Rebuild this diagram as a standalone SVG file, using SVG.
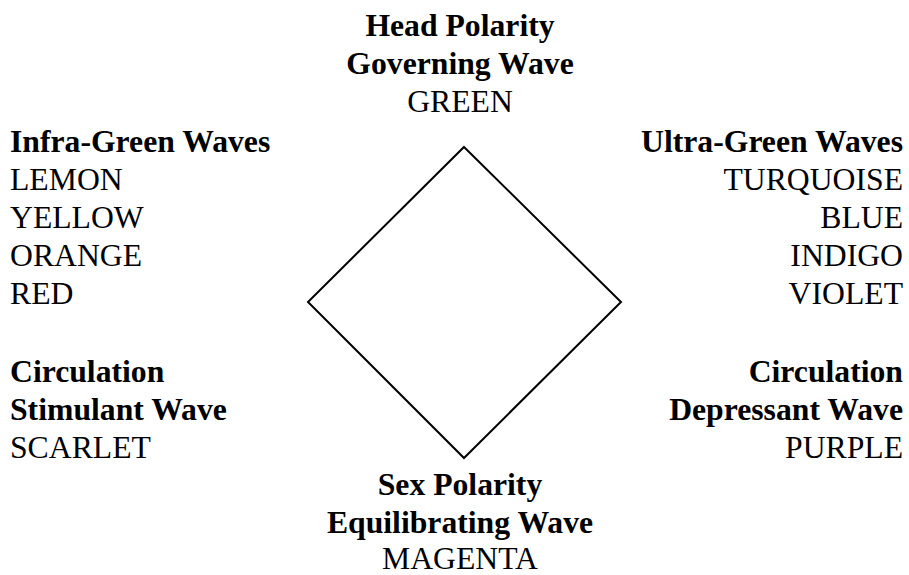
<svg xmlns="http://www.w3.org/2000/svg" width="909" height="575" viewBox="0 0 909 575">
<style>
text{font-family:"Liberation Serif","Times New Roman",serif;font-size:31.7px;fill:#000}
.b{font-weight:bold}
.c{text-anchor:middle}
.r{text-anchor:end}
.shape{fill:none;stroke:#000;stroke-width:2}
</style>
<rect width="909" height="575" fill="#fff"/>
<g id="connectors">
<polygon class="shape" points="464,147 621,302 464,458 308,302"/>
</g>
<g id="head">
<text class="b c" x="460" y="36">Head Polarity</text>
<text class="b c" x="460" y="74">Governing Wave</text>
<text class="c" x="460" y="112">GREEN</text>
</g>
<g id="infra">
<text class="b" x="10" y="152">Infra-Green Waves</text>
<text x="10" y="190">LEMON</text>
<text x="10" y="228">YELLOW</text>
<text x="10" y="266">ORANGE</text>
<text x="10" y="304">RED</text>
</g>
<g id="ultra">
<text class="b r" x="903" y="152">Ultra-Green Waves</text>
<text class="r" x="903" y="190">TURQUOISE</text>
<text class="r" x="903" y="228">BLUE</text>
<text class="r" x="903" y="266">INDIGO</text>
<text class="r" x="903" y="304">VIOLET</text>
</g>
<g id="stimulant">
<text class="b" x="10" y="382">Circulation</text>
<text class="b" x="10" y="420">Stimulant Wave</text>
<text x="10" y="458">SCARLET</text>
</g>
<g id="depressant">
<text class="b r" x="903" y="382">Circulation</text>
<text class="b r" x="903" y="420">Depressant Wave</text>
<text class="r" x="903" y="458">PURPLE</text>
</g>
<g id="sex">
<text class="b c" x="460" y="495">Sex Polarity</text>
<text class="b c" x="460" y="533">Equilibrating Wave</text>
<text class="c" x="460" y="569">MAGENTA</text>
</g>
</svg>
